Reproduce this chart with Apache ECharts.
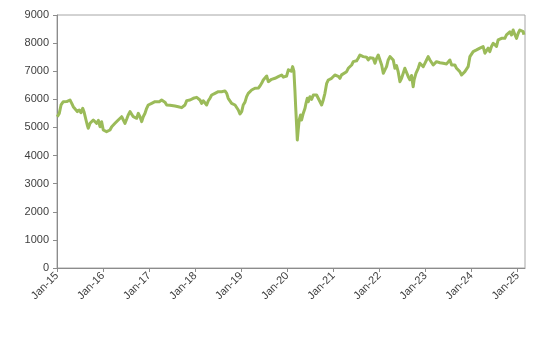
<!DOCTYPE html>
<html>
<head>
<meta charset="utf-8">
<script src="https://cdn.jsdelivr.net/npm/echarts@6/dist/echarts.min.js"></script>
<style>
html,body{margin:0;padding:0;background:#fff;}
#chart{width:543px;height:341px;}
</style>
</head>
<body>
<div id="chart"></div>
<script>
const dates = [
'2015-01-03','2015-01-19','2015-02-02','2015-02-20','2015-03-19','2015-04-14','2015-04-28','2015-05-10','2015-05-24','2015-06-11',
'2015-06-27','2015-07-10','2015-07-24','2015-08-03','2015-08-19','2015-08-29','2015-09-06','2015-09-20','2015-10-03','2015-10-16',
'2015-10-29','2015-11-12','2015-11-25','2015-12-08','2015-12-21','2016-01-03','2016-01-17','2016-01-29','2016-02-12','2016-02-25',
'2016-03-10','2016-03-22','2016-04-05','2016-04-18','2016-05-01','2016-05-15','2016-05-28','2016-06-10','2016-06-23','2016-07-07',
'2016-07-19','2016-08-02','2016-08-15','2016-08-28','2016-09-11','2016-09-24','2016-10-07','2016-10-20','2016-11-03','2016-11-15',
'2016-11-29','2016-12-12','2016-12-25','2017-01-07','2017-01-21','2017-02-03','2017-02-16','2017-03-02','2017-03-22','2017-04-10',
'2017-04-23','2017-05-06','2017-05-20','2017-06-15','2017-06-28','2017-07-25','2017-08-20','2017-09-02','2017-09-16','2017-09-29',
'2017-10-12','2017-10-26','2017-11-07','2017-11-21','2017-12-04','2017-12-17','2017-12-30','2018-01-13','2018-01-26','2018-02-08',
'2018-02-21','2018-03-06','2018-03-20','2018-04-02','2018-04-15','2018-04-28','2018-05-12','2018-05-25','2018-06-07','2018-06-20',
'2018-07-03','2018-07-17','2018-07-30','2018-08-12','2018-08-25','2018-09-08','2018-09-20','2018-10-04','2018-10-17','2018-10-30',
'2018-11-13','2018-11-26','2018-12-09','2018-12-22','2019-01-05','2019-01-17','2019-01-31','2019-02-13','2019-02-26','2019-03-11',
'2019-03-25','2019-04-07','2019-04-20','2019-05-03','2019-05-17','2019-05-30','2019-06-12','2019-06-25','2019-07-08','2019-07-22',
'2019-08-04','2019-08-17','2019-08-30','2019-09-13','2019-09-26','2019-10-09','2019-10-22','2019-11-04','2019-11-18','2019-12-01',
'2019-12-14','2019-12-27','2020-01-10','2020-01-23','2020-02-02','2020-02-13','2020-02-23','2020-03-02','2020-03-08','2020-03-16',
'2020-03-21','2020-03-28','2020-04-05','2020-04-16','2020-04-24','2020-05-07','2020-05-21','2020-05-29','2020-06-08','2020-06-16',
'2020-06-29','2020-07-13','2020-07-26','2020-08-08','2020-08-21','2020-09-03','2020-09-17','2020-09-30','2020-10-13','2020-10-26',
'2020-11-09','2020-11-22','2020-12-05','2020-12-18','2020-12-31','2021-01-13','2021-01-27','2021-02-09','2021-02-22','2021-03-07',
'2021-03-20','2021-04-16','2021-04-29','2021-05-12','2021-05-26','2021-06-08','2021-06-21','2021-07-04','2021-07-17','2021-07-31',
'2021-08-13','2021-08-26','2021-09-08','2021-09-21','2021-10-05','2021-10-18','2021-10-31','2021-11-13','2021-11-27','2021-12-10',
'2021-12-23','2022-01-05','2022-01-19','2022-02-01','2022-02-14','2022-02-27','2022-03-12','2022-03-26','2022-04-08','2022-04-21',
'2022-05-04','2022-05-17','2022-05-30','2022-06-13','2022-06-26','2022-07-09','2022-07-22','2022-08-05','2022-08-18','2022-08-31',
'2022-09-13','2022-09-26','2022-10-04','2022-10-18','2022-11-05','2022-11-18','2022-12-02','2022-12-15','2022-12-28','2023-01-10',
'2023-01-23','2023-02-06','2023-02-19','2023-03-04','2023-03-17','2023-03-30','2023-04-13','2023-04-26','2023-05-09','2023-05-22',
'2023-06-05','2023-06-18','2023-07-01','2023-07-14','2023-07-28','2023-08-10','2023-08-23','2023-09-05','2023-09-18','2023-10-01',
'2023-10-15','2023-10-28','2023-11-10','2023-11-23','2023-12-06','2023-12-20','2024-01-02','2024-01-15','2024-01-29','2024-02-11',
'2024-02-24','2024-03-08','2024-03-21','2024-04-03','2024-04-17','2024-04-30','2024-05-13','2024-05-26','2024-06-08','2024-06-22',
'2024-07-05','2024-07-18','2024-07-31','2024-08-14','2024-08-27','2024-09-09','2024-09-22','2024-10-05','2024-10-19','2024-11-01',
'2024-11-14','2024-11-27','2024-12-11','2024-12-24','2025-01-06','2025-01-19','2025-02-02','2025-02-15','2025-02-20'
];
const values = [
5380,5500,5800,5916,5920,5977,5858,5738,5681,5561,
5621,5525,5681,5560,5265,5087,4970,5147,5100,5265,
5200,5147,5250,5027,5205,4909,4950,4850,4790,4909,
5027,4980,5147,5100,5265,5325,5382,5265,5147,5300,
5443,5561,5500,5382,5440,5325,5503,5380,5205,5380,
5503,5681,5799,5740,5858,5800,5916,5860,5916,5977,
6037,5900,5799,5790,5775,5760,5738,5760,5704,5681,
5799,5953,5930,5977,5960,6037,6094,6070,6119,5977,
5858,5950,5900,5799,5950,6037,6154,6100,6214,6230,
6272,6307,6270,6332,6300,6214,6037,5977,5858,5900,
5799,5738,5621,5479,5560,5799,5900,6094,6214,6250,
6332,6300,6393,6450,6400,6475,6570,6688,6748,6830,
6628,6570,6712,6680,6748,6720,6806,6760,6866,6790,
6850,6830,7050,7104,7000,7163,7000,6332,5738,5027,
4553,4909,5265,5443,5265,5500,5681,5858,6037,5916,
6094,6000,6154,6100,6154,6037,5916,5799,5977,6214,
6570,6688,6630,6748,6690,6866,6800,6820,6748,6870,
6926,6985,7104,7160,7222,7340,7400,7370,7460,7578,
7637,7520,7460,7500,7400,7480,7542,7460,7282,7460,
7578,7520,7222,6926,7050,7163,7400,7519,7560,7400,
7104,7200,6985,6628,6750,6926,7104,7050,6806,6700,
6850,6450,6700,6926,7104,7282,7230,7163,7282,7400,
7519,7400,7340,7222,7280,7340,7282,7300,7240,7282,
7222,7260,7300,7400,7222,7163,7222,7104,7044,6985,
6866,6806,6985,7044,7163,7519,7580,7697,7640,7757,
7700,7820,7757,7875,7640,7700,7820,7697,7880,7994,
8050,7880,8112,8060,8170,8230,8170,8290,8350,8400,
8290,8467,8300,8170,8350,8467,8527,8409,8300
];
const tickDates = ['2015-01-01','2016-01-01','2017-01-01','2018-01-01','2019-01-01','2020-01-01','2021-01-01','2022-01-01','2023-01-01','2024-01-01','2025-01-01'];
const xMin = '2015-01-01';
const xMax = '2025-03-01';

function ts(d){ const p = d.split('-'); return new Date(+p[0], +p[1]-1, +p[2]).getTime(); }
const MON = ['Jan','Feb','Mar','Apr','May','Jun','Jul','Aug','Sep','Oct','Nov','Dec'];

const chart = echarts.init(document.getElementById('chart'), null, {renderer:'canvas'});
const tickVals = tickDates.map(ts);
chart.setOption({
  animation:false,
  backgroundColor:'#ffffff',
  grid:{left:57, right:18, top:15, bottom:73, show:true, borderColor:'#a6a6a6', borderWidth:1, containLabel:false},
  xAxis:{
    type:'value', min:ts(xMin), max:ts(xMax), scale:true,
    axisLine:{show:true, onZero:false, lineStyle:{color:'#8c8c8c', width:1}},
    axisTick:{show:true, length:4, customValues:tickVals, lineStyle:{color:'#8c8c8c'}},
    axisLabel:{customValues:tickVals, rotate:45, margin:6, fontSize:11, fontFamily:'Liberation Sans', color:'#404040',
      formatter:function(v){ const d=new Date(v); return MON[d.getMonth()]+'-'+String(d.getFullYear()).slice(2); }},
    splitLine:{show:false}
  },
  yAxis:{
    type:'value', min:0, max:9000, interval:1000,
    axisLine:{show:true, lineStyle:{color:'#8c8c8c', width:1}},
    axisTick:{show:true, length:4, lineStyle:{color:'#8c8c8c'}},
    axisLabel:{fontSize:11, fontFamily:'Liberation Sans', color:'#404040', margin:8,
      formatter:function(v){ return String(v); }},
    splitLine:{show:false}
  },
  series:[{
    type:'line', showSymbol:false, symbol:'none',
    data: dates.map((d,i)=>[ts(d), values[i]]),
    lineStyle:{color:'#9BBB59', width:3, join:'round'},
    itemStyle:{color:'#9BBB59'}
  }]
});
</script>
</body>
</html>
